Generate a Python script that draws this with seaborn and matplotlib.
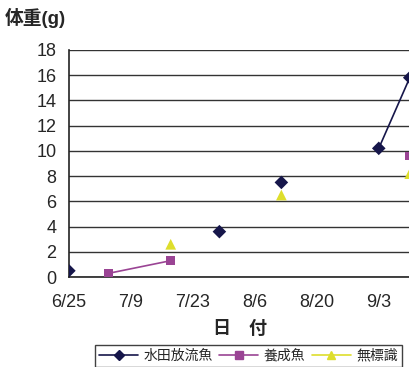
"""体重の推移 (水田放流魚・養成魚・無標識)"""
import matplotlib
matplotlib.use("Agg")
import matplotlib.pyplot as plt
import seaborn as sns
import pandas as pd

# 読み取った値
suiden_dates = ["2000-06-25", "2000-07-29", "2000-08-12", "2000-09-03", "2000-09-10"]
suiden_w = [0.5, 3.6, 7.5, 10.2, 15.8]
yousei_dates = ["2000-07-04", "2000-07-18", "2000-09-10"]
yousei_w = [0.3, 1.3, 9.6]
muhyo_dates = ["2000-07-18", "2000-08-12", "2000-09-10"]
muhyo_w = [2.6, 6.5, 8.2]
tick_dates = ["2000-06-25", "2000-07-09", "2000-07-23", "2000-08-06", "2000-08-20", "2000-09-03"]
tick_labels = ["6/25", "7/9", "7/23", "8/6", "8/20", "9/3"]

names = ["水田放流魚", "養成魚", "無標識"]
colors = {"水田放流魚": "#16164a", "養成魚": "#9a4494", "無標識": "#dede2c"}
markers = {"水田放流魚": "D", "養成魚": "s", "無標識": "^"}
sizes = {"水田放流魚": 48, "養成魚": 40, "無標識": 60}

df = pd.concat(
    [
        pd.DataFrame({"date": pd.to_datetime(d), "w": w, "grp": g})
        for d, w, g in [
            (suiden_dates, suiden_w, names[0]),
            (yousei_dates, yousei_w, names[1]),
            (muhyo_dates, muhyo_w, names[2]),
        ]
    ],
    ignore_index=True,
)

sns.set_style("white")
plt.rcParams["font.family"] = ["Liberation Sans", "Noto Sans CJK JP", "DejaVu Sans"]

fig = plt.figure(figsize=(4.10, 3.67), dpi=100)
ax = fig.add_axes([0.168, 0.245, 0.835, 0.619])

# 連続した測定だけ線でつなぐ
seg = pd.concat(
    [df[df.grp == names[0]].iloc[3:5], df[df.grp == names[1]].iloc[0:2]]
)
sns.lineplot(data=seg, x="date", y="w", hue="grp", palette=colors,
             estimator=None, legend=False, lw=1.2, ax=ax)
sns.scatterplot(data=df, x="date", y="w", hue="grp", style="grp",
                size="grp", sizes=sizes,
                palette=colors, markers=markers, edgecolor="none",
                legend=False, ax=ax, zorder=3)

ax.set_ylim(0, 18)
ax.set_yticks(range(0, 19, 2))
ax.set_xlim(pd.Timestamp("2000-06-25"), pd.Timestamp("2000-09-10 08:00"))
ax.set_xticks(pd.to_datetime(tick_dates))
ax.set_xticklabels(tick_labels)
ax.yaxis.grid(True, color="#333333", lw=1.0)
ax.set_axisbelow(True)
for s in ["top", "right"]:
    ax.spines[s].set_visible(False)
for s in ["left", "bottom"]:
    ax.spines[s].set_color("#222222")
    ax.spines[s].set_linewidth(1.2)
ax.tick_params(axis="both", direction="in", length=4, width=1, color="#333333",
               labelsize=13)
ax.tick_params(axis="x", pad=12)
ax.tick_params(axis="y", pad=9)
ax.set_xlabel("日　付", fontsize=13, fontweight="bold", labelpad=7)
ax.set_ylabel("")
fig.text(0.012, 0.952, "体重(g)", fontsize=13.5, fontweight="bold",
         va="center", ha="left")

handles = [
    plt.Line2D([], [], color=colors[n], marker=markers[n], markersize=5.5,
               markeredgecolor=colors[n], lw=1.2)
    for n in names
]
leg = fig.legend(handles, names, loc="lower left", bbox_to_anchor=(0.232, 0.0),
                 ncol=3, frameon=True, fancybox=False, fontsize=10,
                 handlelength=2.8, handletextpad=0.4, columnspacing=0.45,
                 borderpad=0.3, borderaxespad=0.0)
leg.get_frame().set_edgecolor("#111111")
leg.get_frame().set_linewidth(1.0)

fig.savefig("out.png", dpi=100)
